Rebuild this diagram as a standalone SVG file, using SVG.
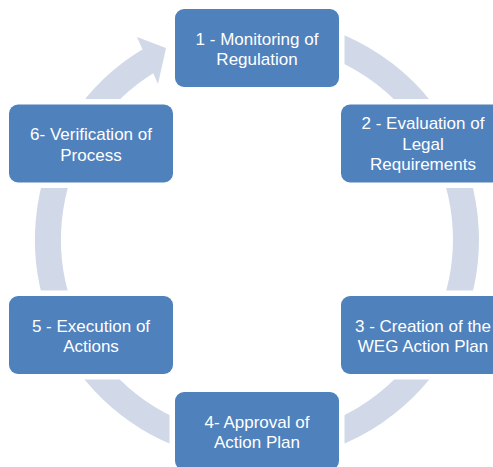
<svg xmlns="http://www.w3.org/2000/svg" width="493" height="467" viewBox="0 0 493 467">
<style>
.node rect{fill:#4F81BD;stroke:#FFFFFF;stroke-width:11;paint-order:stroke}
.node text{font-family:"Liberation Sans",Arial,sans-serif;font-size:17px;fill:#FFFFFF;text-anchor:middle}
.band{fill:none;stroke:#D1D8E8;stroke-width:26}
.head{fill:#D1D8E8}
</style>
<rect width="493" height="467" fill="#FFFFFF"/>
<g id="connectors">
<path class="band" d="M 275.2 31.3 A 209 209 0 1 1 149.4 60.3"/>
<polygon class="head" points="137,37 166,48 158,84"/>
</g>
<g id="node1" class="node">
<rect x="175" y="9" width="164" height="78" rx="9"/>
<text x="257" y="45">1 - Monitoring of</text>
<text x="257" y="65">Regulation</text>
</g>
<g id="node2" class="node">
<rect x="341" y="104.5" width="164" height="78" rx="9"/>
<text x="423" y="129">2 - Evaluation of</text>
<text x="423" y="149.5">Legal</text>
<text x="423" y="170">Requirements</text>
</g>
<g id="node3" class="node">
<rect x="341" y="296" width="164" height="78" rx="9"/>
<text x="423" y="331.5">3 - Creation of the</text>
<text x="423" y="352">WEG Action Plan</text>
</g>
<g id="node4" class="node">
<rect x="175" y="392" width="164" height="78" rx="9"/>
<text x="257" y="427.5">4- Approval of</text>
<text x="257" y="448">Action Plan</text>
</g>
<g id="node5" class="node">
<rect x="9" y="296" width="164" height="78" rx="9"/>
<text x="91" y="331.5">5 - Execution of</text>
<text x="91" y="352">Actions</text>
</g>
<g id="node6" class="node">
<rect x="9" y="104.5" width="164" height="78" rx="9"/>
<text x="91" y="140">6- Verification of</text>
<text x="91" y="160.5">Process</text>
</g>
</svg>
